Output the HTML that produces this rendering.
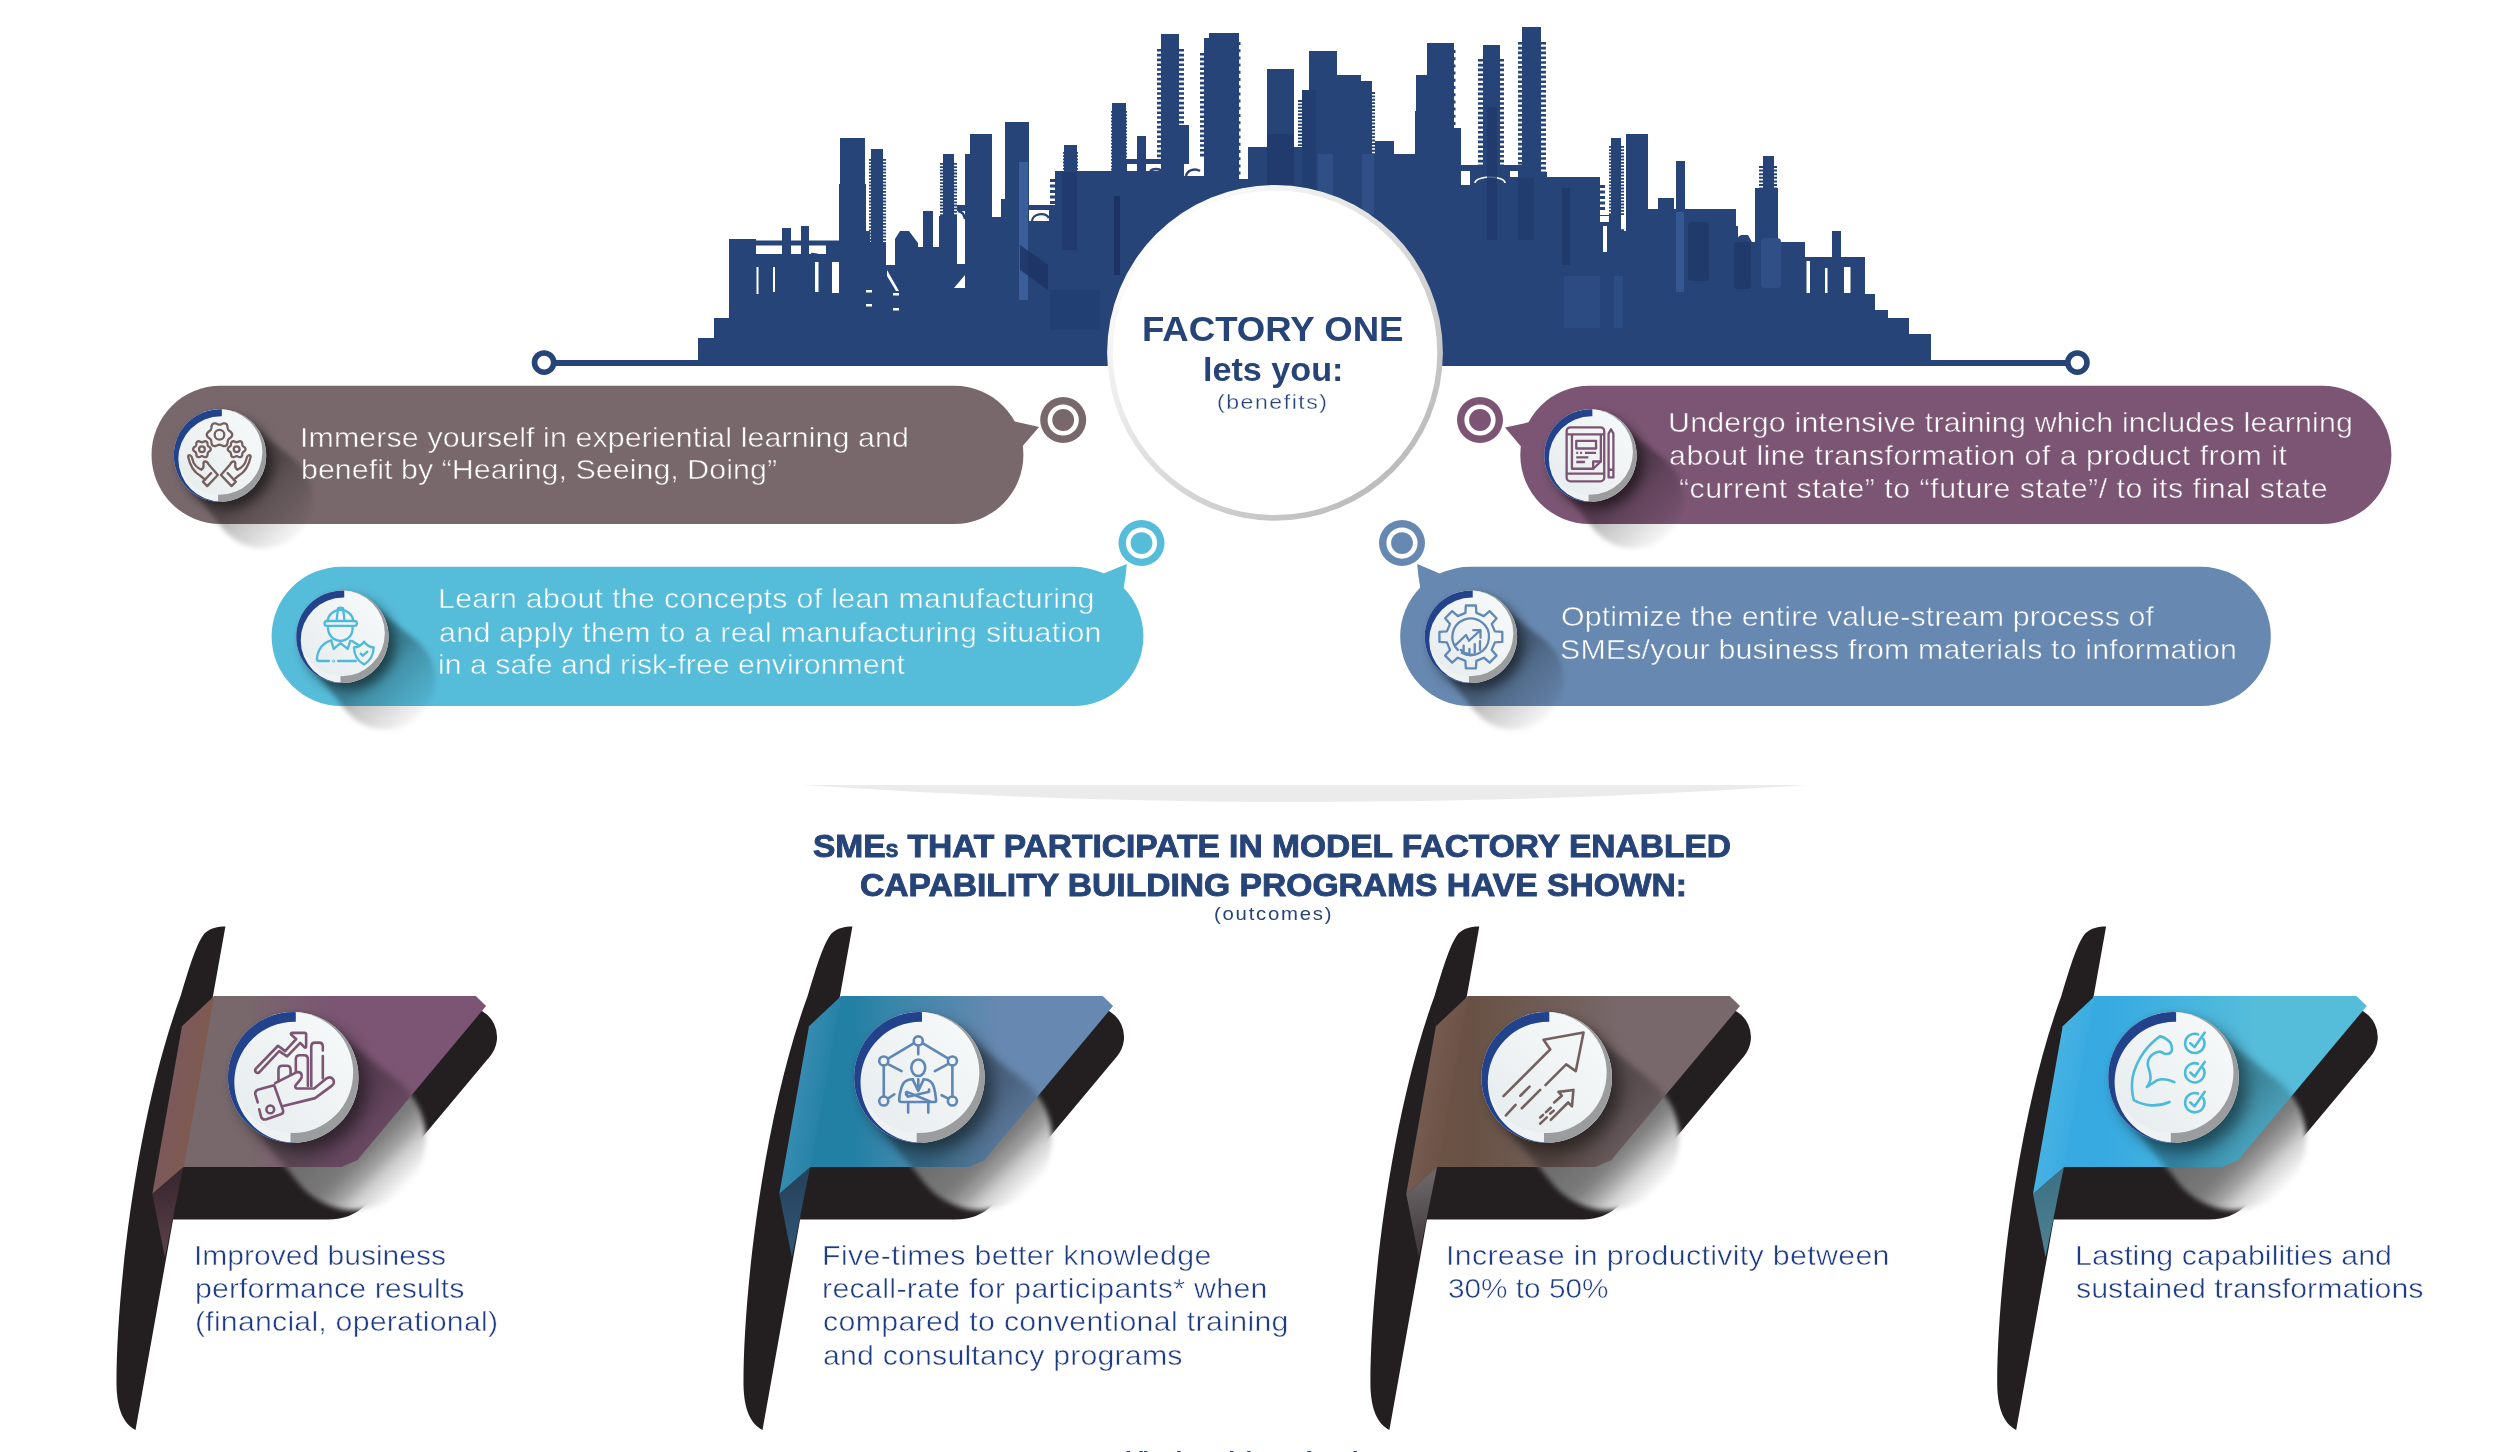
<!DOCTYPE html>
<html><head><meta charset="utf-8"><title>Factory One</title>
<style>
html,body{margin:0;padding:0;background:#fff}
body{width:2501px;height:1452px;position:relative;overflow:hidden;font-family:"Liberation Sans",sans-serif}
.t{position:absolute;white-space:nowrap;transform-origin:0 50%;margin:0;padding:0}
</style></head><body>
<svg width="2501" height="1452" viewBox="0 0 2501 1452" style="position:absolute;left:0;top:0"><defs><linearGradient id="faceg" x1="0.15" y1="0.85" x2="0.85" y2="0.15"><stop offset="0" stop-color="#E8EDEF"/><stop offset="0.5" stop-color="#EFF3F4"/><stop offset="1" stop-color="#F5F8F9"/></linearGradient><linearGradient id="rimg" x1="0.146" y1="0.146" x2="0.854" y2="0.854"><stop offset="0" stop-color="#FDFDFD"/><stop offset="1" stop-color="#BCBCBC"/></linearGradient></defs><path d="M698 338H714V366H698zM714 318H729V366H714zM729 239H756V366H729zM756 240.5H840V366H756zM782 228H791V366H782zM801 226H809V366H801zM840 138H865V366H840zM839 184H866V366H839zM865 231H870V366H865zM871 149H883V366H871zM869 242H886V366H869zM886 265H895V366H886zM918 247H939V366H918zM923 211H933V366H923zM943 154H954V366H943zM939 216H963V366H939zM957 205H965V366H957zM965 154H970V366H965zM970 134H992V366H970zM992 217H1005V366H992zM1005 122H1029V366H1005zM1001 199H1005V366H1001zM1029 205H1055V366H1029zM1055 171H1237V366H1055zM1064 145H1077V366H1064zM1112 103H1126V366H1112zM1137 136H1146V366H1137zM1126 159H1161V366H1126zM1161 34H1179V366H1161zM1179 125H1189V366H1179zM1209 33H1239V366H1209zM1204 38H1209V366H1204zM1237 179H1248V366H1237zM1248 147H1267V366H1248zM1267 69H1294V366H1267zM1294 147H1302V366H1294zM1302 90H1309V366H1302zM1309 51H1337V366H1309zM1337 75H1361V366H1337zM1361 81H1372V366H1361zM1372 154H1375V366H1372zM1375 141H1394V366H1375zM1394 154H1415V366H1394zM1415 111H1416V366H1415zM1416 75H1427V366H1416zM1427 43H1454V366H1427zM1454 128H1461V366H1454zM1453 165H1537V366H1453zM1483 45H1500V366H1483zM1522 27H1541V366H1522zM1518 172H1547V366H1518zM1547 177H1600V366H1547zM1600 215H1611V366H1600zM1611 138H1621V366H1611zM1609 231H1626V366H1609zM1626 134H1648V366H1626zM1648 209H1736V366H1648zM1658 198H1674V366H1658zM1676 161H1685V366H1676zM1736 226H1738V366H1736zM1738 242H1755V366H1738zM1755 188H1778V366H1755zM1763 156H1774V366H1763zM1778 242H1805V366H1778zM1805 257H1865V366H1805zM1832 231H1841V366H1832zM1865 294H1875V366H1865zM1875 310H1888V366H1875zM1888 318H1909V366H1888zM1909 334H1931V366H1909zM895 366V239L900 231H909L918 243V366zM1738 366V237L1741 235H1748L1752 242V366z" fill="#264478"/>
<path d="M869.0 159.0h17.0v1.8h-17.0zM869.0 162.2h17.0v1.8h-17.0zM869.0 165.4h17.0v1.8h-17.0zM869.0 168.6h17.0v1.8h-17.0zM869.0 171.8h17.0v1.8h-17.0zM869.0 175.0h17.0v1.8h-17.0zM869.0 178.2h17.0v1.8h-17.0zM869.0 181.4h17.0v1.8h-17.0zM869.0 184.6h17.0v1.8h-17.0zM869.0 187.8h17.0v1.8h-17.0zM869.0 191.0h17.0v1.8h-17.0zM869.0 194.2h17.0v1.8h-17.0zM869.0 197.4h17.0v1.8h-17.0zM869.0 200.6h17.0v1.8h-17.0zM869.0 203.8h17.0v1.8h-17.0zM869.0 207.0h17.0v1.8h-17.0zM869.0 210.2h17.0v1.8h-17.0zM869.0 213.4h17.0v1.8h-17.0zM869.0 216.6h17.0v1.8h-17.0zM869.0 219.8h17.0v1.8h-17.0zM869.0 223.0h17.0v1.8h-17.0zM869.0 226.2h17.0v1.8h-17.0zM869.0 229.4h17.0v1.8h-17.0zM869.0 232.6h17.0v1.8h-17.0zM869.0 235.8h17.0v1.8h-17.0zM869.0 239.0h17.0v1.8h-17.0z" fill="#264478"/>
<path d="M940.0 163.0h17.0v1.8h-17.0zM940.0 166.2h17.0v1.8h-17.0zM940.0 169.4h17.0v1.8h-17.0zM940.0 172.6h17.0v1.8h-17.0zM940.0 175.8h17.0v1.8h-17.0zM940.0 179.0h17.0v1.8h-17.0zM940.0 182.2h17.0v1.8h-17.0zM940.0 185.4h17.0v1.8h-17.0zM940.0 188.6h17.0v1.8h-17.0zM940.0 191.8h17.0v1.8h-17.0zM940.0 195.0h17.0v1.8h-17.0zM940.0 198.2h17.0v1.8h-17.0zM940.0 201.4h17.0v1.8h-17.0zM940.0 204.6h17.0v1.8h-17.0zM940.0 207.8h17.0v1.8h-17.0zM940.0 211.0h17.0v1.8h-17.0zM940.0 214.2h17.0v1.8h-17.0z" fill="#264478"/>
<path d="M1063.0 152.0h15.0v1.8h-15.0zM1063.0 155.2h15.0v1.8h-15.0zM1063.0 158.4h15.0v1.8h-15.0zM1063.0 161.6h15.0v1.8h-15.0zM1063.0 164.8h15.0v1.8h-15.0zM1063.0 168.0h15.0v1.8h-15.0z" fill="#264478"/>
<path d="M1111.0 111.0h16.0v1.8h-16.0zM1111.0 114.2h16.0v1.8h-16.0zM1111.0 117.4h16.0v1.8h-16.0zM1111.0 120.6h16.0v1.8h-16.0zM1111.0 123.8h16.0v1.8h-16.0zM1111.0 127.0h16.0v1.8h-16.0zM1111.0 130.2h16.0v1.8h-16.0zM1111.0 133.4h16.0v1.8h-16.0zM1111.0 136.6h16.0v1.8h-16.0zM1111.0 139.8h16.0v1.8h-16.0zM1111.0 143.0h16.0v1.8h-16.0zM1111.0 146.2h16.0v1.8h-16.0zM1111.0 149.4h16.0v1.8h-16.0zM1111.0 152.6h16.0v1.8h-16.0zM1111.0 155.8h16.0v1.8h-16.0zM1111.0 159.0h16.0v1.8h-16.0zM1111.0 162.2h16.0v1.8h-16.0zM1111.0 165.4h16.0v1.8h-16.0zM1111.0 168.6h16.0v1.8h-16.0z" fill="#264478"/>
<path d="M1050.0 179.0h5.0v3.0h-5.0zM1050.0 184.5h5.0v3.0h-5.0zM1050.0 190.0h5.0v3.0h-5.0zM1050.0 195.5h5.0v3.0h-5.0zM1050.0 201.0h5.0v3.0h-5.0z" fill="#264478"/>
<path d="M1157.0 49.0h27.0v2.6h-27.0zM1157.0 53.8h27.0v2.6h-27.0zM1157.0 58.6h27.0v2.6h-27.0zM1157.0 63.4h27.0v2.6h-27.0zM1157.0 68.2h27.0v2.6h-27.0zM1157.0 73.0h27.0v2.6h-27.0zM1157.0 77.8h27.0v2.6h-27.0zM1157.0 82.6h27.0v2.6h-27.0zM1157.0 87.4h27.0v2.6h-27.0zM1157.0 92.2h27.0v2.6h-27.0zM1157.0 97.0h27.0v2.6h-27.0zM1157.0 101.8h27.0v2.6h-27.0zM1157.0 106.6h27.0v2.6h-27.0zM1157.0 111.4h27.0v2.6h-27.0zM1157.0 116.2h27.0v2.6h-27.0zM1157.0 121.0h27.0v2.6h-27.0zM1157.0 125.8h27.0v2.6h-27.0zM1157.0 130.6h27.0v2.6h-27.0zM1157.0 135.4h27.0v2.6h-27.0zM1157.0 140.2h27.0v2.6h-27.0zM1157.0 145.0h27.0v2.6h-27.0zM1157.0 149.8h27.0v2.6h-27.0zM1157.0 154.6h27.0v2.6h-27.0z" fill="#264478"/>
<path d="M1184.0 126.0h5.0v2.6h-5.0zM1184.0 130.8h5.0v2.6h-5.0zM1184.0 135.6h5.0v2.6h-5.0zM1184.0 140.4h5.0v2.6h-5.0zM1184.0 145.2h5.0v2.6h-5.0zM1184.0 150.0h5.0v2.6h-5.0zM1184.0 154.8h5.0v2.6h-5.0zM1184.0 159.6h5.0v2.6h-5.0z" fill="#264478"/>
<path d="M1200.0 53.0h4.0v2.6h-4.0zM1200.0 57.8h4.0v2.6h-4.0zM1200.0 62.6h4.0v2.6h-4.0zM1200.0 67.4h4.0v2.6h-4.0zM1200.0 72.2h4.0v2.6h-4.0zM1200.0 77.0h4.0v2.6h-4.0zM1200.0 81.8h4.0v2.6h-4.0zM1200.0 86.6h4.0v2.6h-4.0zM1200.0 91.4h4.0v2.6h-4.0zM1200.0 96.2h4.0v2.6h-4.0zM1200.0 101.0h4.0v2.6h-4.0zM1200.0 105.8h4.0v2.6h-4.0zM1200.0 110.6h4.0v2.6h-4.0zM1200.0 115.4h4.0v2.6h-4.0zM1200.0 120.2h4.0v2.6h-4.0zM1200.0 125.0h4.0v2.6h-4.0zM1200.0 129.8h4.0v2.6h-4.0zM1200.0 134.6h4.0v2.6h-4.0zM1200.0 139.4h4.0v2.6h-4.0zM1200.0 144.2h4.0v2.6h-4.0zM1200.0 149.0h4.0v2.6h-4.0zM1200.0 153.8h4.0v2.6h-4.0z" fill="#264478"/>
<path d="M1239.0 42.0h1.5v3.0h-1.5zM1239.0 49.2h1.5v3.0h-1.5zM1239.0 56.4h1.5v3.0h-1.5zM1239.0 63.6h1.5v3.0h-1.5zM1239.0 70.8h1.5v3.0h-1.5zM1239.0 78.0h1.5v3.0h-1.5zM1239.0 85.2h1.5v3.0h-1.5zM1239.0 92.4h1.5v3.0h-1.5zM1239.0 99.6h1.5v3.0h-1.5zM1239.0 106.8h1.5v3.0h-1.5zM1239.0 114.0h1.5v3.0h-1.5zM1239.0 121.2h1.5v3.0h-1.5zM1239.0 128.4h1.5v3.0h-1.5zM1239.0 135.6h1.5v3.0h-1.5zM1239.0 142.8h1.5v3.0h-1.5zM1239.0 150.0h1.5v3.0h-1.5zM1239.0 157.2h1.5v3.0h-1.5zM1239.0 164.4h1.5v3.0h-1.5zM1239.0 171.6h1.5v3.0h-1.5z" fill="#264478"/>
<path d="M1298.0 100.0h4.0v1.9h-4.0zM1298.0 103.4h4.0v1.9h-4.0zM1298.0 106.8h4.0v1.9h-4.0zM1298.0 110.2h4.0v1.9h-4.0zM1298.0 113.6h4.0v1.9h-4.0zM1298.0 117.0h4.0v1.9h-4.0zM1298.0 120.4h4.0v1.9h-4.0zM1298.0 123.8h4.0v1.9h-4.0zM1298.0 127.2h4.0v1.9h-4.0zM1298.0 130.6h4.0v1.9h-4.0zM1298.0 134.0h4.0v1.9h-4.0zM1298.0 137.4h4.0v1.9h-4.0zM1298.0 140.8h4.0v1.9h-4.0zM1298.0 144.2h4.0v1.9h-4.0z" fill="#264478"/>
<path d="M1372.0 92.0h3.0v1.9h-3.0zM1372.0 95.4h3.0v1.9h-3.0zM1372.0 98.8h3.0v1.9h-3.0zM1372.0 102.2h3.0v1.9h-3.0zM1372.0 105.6h3.0v1.9h-3.0zM1372.0 109.0h3.0v1.9h-3.0zM1372.0 112.4h3.0v1.9h-3.0zM1372.0 115.8h3.0v1.9h-3.0zM1372.0 119.2h3.0v1.9h-3.0zM1372.0 122.6h3.0v1.9h-3.0zM1372.0 126.0h3.0v1.9h-3.0zM1372.0 129.4h3.0v1.9h-3.0zM1372.0 132.8h3.0v1.9h-3.0zM1372.0 136.2h3.0v1.9h-3.0zM1372.0 139.6h3.0v1.9h-3.0zM1372.0 143.0h3.0v1.9h-3.0zM1372.0 146.4h3.0v1.9h-3.0zM1372.0 149.8h3.0v1.9h-3.0zM1372.0 153.2h3.0v1.9h-3.0z" fill="#264478"/>
<path d="M1454.0 50.0h1.5v3.0h-1.5zM1454.0 57.2h1.5v3.0h-1.5zM1454.0 64.4h1.5v3.0h-1.5zM1454.0 71.6h1.5v3.0h-1.5zM1454.0 78.8h1.5v3.0h-1.5zM1454.0 86.0h1.5v3.0h-1.5zM1454.0 93.2h1.5v3.0h-1.5zM1454.0 100.4h1.5v3.0h-1.5zM1454.0 107.6h1.5v3.0h-1.5zM1454.0 114.8h1.5v3.0h-1.5zM1454.0 122.0h1.5v3.0h-1.5z" fill="#264478"/>
<path d="M1478.0 59.0h26.0v2.6h-26.0zM1478.0 63.8h26.0v2.6h-26.0zM1478.0 68.6h26.0v2.6h-26.0zM1478.0 73.4h26.0v2.6h-26.0zM1478.0 78.2h26.0v2.6h-26.0zM1478.0 83.0h26.0v2.6h-26.0zM1478.0 87.8h26.0v2.6h-26.0zM1478.0 92.6h26.0v2.6h-26.0zM1478.0 97.4h26.0v2.6h-26.0zM1478.0 102.2h26.0v2.6h-26.0zM1478.0 107.0h26.0v2.6h-26.0zM1478.0 111.8h26.0v2.6h-26.0zM1478.0 116.6h26.0v2.6h-26.0zM1478.0 121.4h26.0v2.6h-26.0zM1478.0 126.2h26.0v2.6h-26.0zM1478.0 131.0h26.0v2.6h-26.0zM1478.0 135.8h26.0v2.6h-26.0zM1478.0 140.6h26.0v2.6h-26.0zM1478.0 145.4h26.0v2.6h-26.0zM1478.0 150.2h26.0v2.6h-26.0zM1478.0 155.0h26.0v2.6h-26.0zM1478.0 159.8h26.0v2.6h-26.0zM1478.0 164.6h26.0v2.6h-26.0z" fill="#264478"/>
<path d="M1518.0 42.0h28.0v2.6h-28.0zM1518.0 46.8h28.0v2.6h-28.0zM1518.0 51.6h28.0v2.6h-28.0zM1518.0 56.4h28.0v2.6h-28.0zM1518.0 61.2h28.0v2.6h-28.0zM1518.0 66.0h28.0v2.6h-28.0zM1518.0 70.8h28.0v2.6h-28.0zM1518.0 75.6h28.0v2.6h-28.0zM1518.0 80.4h28.0v2.6h-28.0zM1518.0 85.2h28.0v2.6h-28.0zM1518.0 90.0h28.0v2.6h-28.0zM1518.0 94.8h28.0v2.6h-28.0zM1518.0 99.6h28.0v2.6h-28.0zM1518.0 104.4h28.0v2.6h-28.0zM1518.0 109.2h28.0v2.6h-28.0zM1518.0 114.0h28.0v2.6h-28.0zM1518.0 118.8h28.0v2.6h-28.0zM1518.0 123.6h28.0v2.6h-28.0zM1518.0 128.4h28.0v2.6h-28.0zM1518.0 133.2h28.0v2.6h-28.0zM1518.0 138.0h28.0v2.6h-28.0zM1518.0 142.8h28.0v2.6h-28.0zM1518.0 147.6h28.0v2.6h-28.0zM1518.0 152.4h28.0v2.6h-28.0zM1518.0 157.2h28.0v2.6h-28.0zM1518.0 162.0h28.0v2.6h-28.0zM1518.0 166.8h28.0v2.6h-28.0zM1518.0 171.6h28.0v2.6h-28.0z" fill="#264478"/>
<path d="M1600.0 185.0h5.0v3.0h-5.0zM1600.0 190.5h5.0v3.0h-5.0zM1600.0 196.0h5.0v3.0h-5.0zM1600.0 201.5h5.0v3.0h-5.0zM1600.0 207.0h5.0v3.0h-5.0z" fill="#264478"/>
<path d="M1609.0 146.0h15.0v1.8h-15.0zM1609.0 149.2h15.0v1.8h-15.0zM1609.0 152.4h15.0v1.8h-15.0zM1609.0 155.6h15.0v1.8h-15.0zM1609.0 158.8h15.0v1.8h-15.0zM1609.0 162.0h15.0v1.8h-15.0zM1609.0 165.2h15.0v1.8h-15.0zM1609.0 168.4h15.0v1.8h-15.0zM1609.0 171.6h15.0v1.8h-15.0zM1609.0 174.8h15.0v1.8h-15.0zM1609.0 178.0h15.0v1.8h-15.0zM1609.0 181.2h15.0v1.8h-15.0zM1609.0 184.4h15.0v1.8h-15.0zM1609.0 187.6h15.0v1.8h-15.0zM1609.0 190.8h15.0v1.8h-15.0zM1609.0 194.0h15.0v1.8h-15.0zM1609.0 197.2h15.0v1.8h-15.0zM1609.0 200.4h15.0v1.8h-15.0zM1609.0 203.6h15.0v1.8h-15.0zM1609.0 206.8h15.0v1.8h-15.0zM1609.0 210.0h15.0v1.8h-15.0zM1609.0 213.2h15.0v1.8h-15.0zM1609.0 216.4h15.0v1.8h-15.0zM1609.0 219.6h15.0v1.8h-15.0zM1609.0 222.8h15.0v1.8h-15.0zM1609.0 226.0h15.0v1.8h-15.0zM1609.0 229.2h15.0v1.8h-15.0z" fill="#264478"/>
<path d="M1759.0 166.0h18.0v2.0h-18.0zM1759.0 169.6h18.0v2.0h-18.0zM1759.0 173.2h18.0v2.0h-18.0zM1759.0 176.8h18.0v2.0h-18.0zM1759.0 180.4h18.0v2.0h-18.0zM1759.0 184.0h18.0v2.0h-18.0zM1759.0 187.6h18.0v2.0h-18.0z" fill="#264478"/>
<path d="M756 245.5H782V254H756zM791 245.5H801V254H791zM809 245.5H826V254H809zM756.5 267H758.5V294H756.5zM773 267H775V292H773zM815 262H818.5V292H815zM832 262H839V293H832zM866 290H872V292.5H866zM866 304H872V306.5H866zM893 293H899V295.5H893zM893 308H899V310.5H893zM957 211H965V264H957zM1029 210H1049V221H1029zM1127 164H1137V171H1127zM1146 164H1161V171H1146zM1184 164H1204V176H1184zM1461 171H1470V185H1461zM1510 171H1518V177H1510zM1600 216H1609V222H1600zM1603 226H1607V252H1603zM1621 216H1624.5V229H1621zM1806.5 261H1810V293H1806.5zM1825 268H1827.5V293H1825zM1844 267H1850.5V293H1844z" fill="#fff"/>
<path d="M887 270L899 291H896L887 276z M954 288L965 275V288z" fill="#fff"/>
<path d="M1475 183a15 6 0 0 1 30 0" fill="none" stroke="#fff" stroke-width="1.6"/>
<path d="M1032 221a9 7 0 0 1 17 -3 M1150 171a8 6 0 0 1 12 0 M1186 176a9 8 0 0 1 14 -5 M1806 259h9l5 5 M1841 259h14l5 5 M811 254q12 0 15 10 M958 211q6 1 7 8" fill="none" stroke="#264478" stroke-width="2.4"/>
<rect x="1019.0" y="162.0" width="9.0" height="138.0" fill="#3A5E9A" />
<rect x="1062.0" y="172.0" width="15.0" height="78.0" fill="#203A6C" opacity="0.8"/>
<rect x="1114.0" y="196.0" width="6.0" height="79.0" fill="#1C3263" />
<rect x="1267.0" y="134.0" width="27.0" height="56.0" fill="#203A6C" opacity="0.8"/>
<rect x="1302.0" y="90.0" width="14.0" height="100.0" fill="#203A6C" opacity="0.6"/>
<rect x="1318.0" y="154.0" width="15.0" height="41.0" fill="#2F4F86" />
<rect x="1362.0" y="154.0" width="12.0" height="61.0" fill="#2F4F86" />
<rect x="1487.0" y="107.0" width="10.0" height="133.0" fill="#203A6C" opacity="0.8"/>
<rect x="1518.0" y="178.0" width="16.0" height="62.0" fill="#203A6C" opacity="0.7"/>
<rect x="1562.0" y="188.0" width="8.0" height="77.0" fill="#203A6C" />
<rect x="1564.0" y="276.0" width="36.0" height="52.0" fill="#2F4F86" opacity="0.7"/>
<rect x="1614.0" y="276.0" width="9.0" height="52.0" fill="#2F4F86" opacity="0.9"/>
<rect x="1676.0" y="212.0" width="8.0" height="80.0" fill="#3A5E9A" opacity="0.8"/>
<rect x="1688" y="222" width="21" height="59" rx="4" fill="#203A6C"/>
<rect x="1734" y="242" width="17" height="47" rx="3" fill="#203A6C"/>
<rect x="1761" y="238" width="20" height="50" rx="4" fill="#2F4F86"/>
<rect x="1370.0" y="280.0" width="30.0" height="30.0" fill="#203A6C" opacity="0.5"/>
<rect x="1050.0" y="290.0" width="50.0" height="40.0" fill="#203A6C" opacity="0.45"/>
<path d="M1020 245l28 20v25l-28 -20z" fill="#1C3263" opacity="0.8"/>
<rect x="543.0" y="360.0" width="1534.0" height="6.0" fill="#264478" />
<circle cx="544.1" cy="362.6" r="9.6" fill="#fff" stroke="#264478" stroke-width="5.6"/>
<circle cx="2077.4" cy="362.6" r="9.6" fill="#fff" stroke="#264478" stroke-width="5.6"/>
<rect x="151.5" y="385.7" width="871.9" height="138.3" rx="69.2" fill="#78686B"/>
<polygon points="1000,418 1039.1,427.1 1015,455" fill="#78686B"/>
<g style="mix-blend-mode:multiply"><linearGradient id="cg1" gradientUnits="userSpaceOnUse" x1="220" y1="455.5" x2="297.9" y2="533.4"><stop offset="0" stop-color="#a8a8a8"/><stop offset="0.42" stop-color="#adadad"/><stop offset="0.56" stop-color="#c7c7c7"/><stop offset="0.7" stop-color="#d6d6d6"/><stop offset="0.85" stop-color="#e6e6e6"/><stop offset="1.0" stop-color="#f7f7f7"/></linearGradient><filter id="cf2" x="-15%" y="-15%" width="130%" height="130%"><feGaussianBlur stdDeviation="2.6"/></filter><path d="M246.7 421.8L293.5 458.8A50 50 0 1 1 223.3 529.0L186.3 482.2A43.0 43.0 0 0 1 246.7 421.8z" fill="url(#cg1)" filter="url(#cf2)" /><filter id="df3" x="-40%" y="-40%" width="180%" height="180%"><feGaussianBlur stdDeviation="6"/></filter><circle cx="227.0" cy="462.5" r="46" fill="#000" opacity="0.5" filter="url(#df3)"/></g>
<clipPath id="bc4"><rect x="218.09" y="407.3" width="51.2" height="96.4"/></clipPath><clipPath id="bc5"><rect x="171.80" y="407.3" width="50.04" height="96.4"/></clipPath><circle cx="220" cy="455.5" r="46.2" fill="#EEF2F3"/><circle cx="220" cy="455.5" r="46.2" fill="#9A9C9E" clip-path="url(#bc4)"/><circle cx="219.65" cy="452.07" r="42.77" fill="url(#faceg)"/><path fill-rule="evenodd" clip-path="url(#bc5)" fill="#22428C" d="M173.8 455.5a46.2 46.2 0 1 0 92.4 0a46.2 46.2 0 1 0 -92.4 0zM178.33 458.86a42.73 42.73 0 1 0 85.47 0a42.73 42.73 0 1 0 -85.47 0z"/>
<g transform="translate(160 395) scale(0.09642)" fill="none" stroke="#75605F" stroke-width="24" stroke-linecap="round" stroke-linejoin="round"><path d="M617 308L626 307L636 303L648 298L660 295L672 294L683 298L692 305L697 316L700 329L702 341L704 351L707 360L713 367L721 374L731 381L740 390L747 401L749 412L747 423L740 434L731 443L721 450L713 457L707 464L704 473L702 483L700 495L697 508L692 519L683 526L672 530L660 529L648 526L636 521L626 517L617 516L608 517L598 521L586 526L574 529L562 530L551 526L542 519L537 508L534 495L532 483L530 473L527 464L521 457L513 450L503 443L494 434L487 423L485 412L487 401L494 390L503 381L513 374L521 367L527 360L530 351L532 341L534 329L537 316L542 305L551 298L562 294L574 295L586 298L598 303L608 307L617 308z"/><circle cx="617" cy="412" r="50"/><path d="M435 490L441 489L448 486L456 483L465 480L473 480L481 482L487 488L491 495L493 504L494 513L495 520L497 526L501 531L507 536L514 541L521 547L525 554L527 562L525 570L521 577L514 583L507 588L501 593L497 598L495 604L494 611L493 620L491 629L487 636L481 642L473 644L465 644L456 641L448 638L441 635L435 634L429 635L422 638L414 641L405 644L397 644L389 642L383 636L379 629L377 620L376 611L375 604L373 598L369 593L363 588L356 583L349 577L345 570L343 562L345 554L349 547L356 541L363 536L369 531L373 526L375 520L376 513L377 504L379 495L383 488L389 482L397 480L405 480L414 483L422 486L429 489L435 490z"/><circle cx="435" cy="562" r="30"/><path d="M795 490L801 489L808 486L816 483L825 480L833 480L841 482L847 488L851 495L853 504L854 513L855 520L857 526L861 531L867 536L874 541L881 547L885 554L887 562L885 570L881 577L874 583L867 588L861 593L857 598L855 604L854 611L853 620L851 629L847 636L841 642L833 644L825 644L816 641L808 638L801 635L795 634L789 635L782 638L774 641L765 644L757 644L749 642L743 636L739 629L737 620L736 611L735 604L733 598L729 593L723 588L716 583L709 577L705 570L703 562L705 554L709 547L716 541L723 536L729 531L733 526L735 520L736 513L737 504L739 495L743 488L749 482L757 480L765 480L774 483L782 486L789 489L795 490z"/><circle cx="795" cy="562" r="30"/><path d="M292 640Q290 620 312 625Q330 632 335 660Q350 740 430 775Q455 760 452 725Q445 690 470 690Q490 690 505 720L600 830L490 945L445 900L530 810M470 880L415 835Q320 780 292 640"/><path d="M940 640Q942 620 920 625Q902 632 897 660Q882 740 802 775Q777 760 780 725Q787 690 762 690Q742 690 727 720L632 830L742 945L787 900L702 810M762 880L817 835Q912 780 940 640"/></g>
<circle cx="1063.2" cy="420" r="23" fill="#78686B"/><circle cx="1063.2" cy="420" r="15.6" fill="#fff"/><circle cx="1063.2" cy="420" r="10.9" fill="#78686B"/>
<rect x="1520.3" y="385.7" width="871.1" height="138.3" rx="69.2" fill="#7B5573"/>
<polygon points="1542,419.5 1505,427.4 1528,455" fill="#7B5573"/>
<g style="mix-blend-mode:multiply"><linearGradient id="cg6" gradientUnits="userSpaceOnUse" x1="1590.5" y1="455.5" x2="1668.4" y2="533.4"><stop offset="0" stop-color="#a8a8a8"/><stop offset="0.42" stop-color="#adadad"/><stop offset="0.56" stop-color="#c7c7c7"/><stop offset="0.7" stop-color="#d6d6d6"/><stop offset="0.85" stop-color="#e6e6e6"/><stop offset="1.0" stop-color="#f7f7f7"/></linearGradient><filter id="cf7" x="-15%" y="-15%" width="130%" height="130%"><feGaussianBlur stdDeviation="2.6"/></filter><path d="M1617.2 421.8L1664.0 458.8A50 50 0 1 1 1593.8 529.0L1556.8 482.2A43.0 43.0 0 0 1 1617.2 421.8z" fill="url(#cg6)" filter="url(#cf7)" /><filter id="df8" x="-40%" y="-40%" width="180%" height="180%"><feGaussianBlur stdDeviation="6"/></filter><circle cx="1597.5" cy="462.5" r="46" fill="#000" opacity="0.5" filter="url(#df8)"/></g>
<clipPath id="bc9"><rect x="1588.59" y="407.3" width="51.2" height="96.4"/></clipPath><clipPath id="bc10"><rect x="1542.30" y="407.3" width="50.04" height="96.4"/></clipPath><circle cx="1590.5" cy="455.5" r="46.2" fill="#EEF2F3"/><circle cx="1590.5" cy="455.5" r="46.2" fill="#9A9C9E" clip-path="url(#bc9)"/><circle cx="1590.15" cy="452.07" r="42.77" fill="url(#faceg)"/><path fill-rule="evenodd" clip-path="url(#bc10)" fill="#22428C" d="M1544.3 455.5a46.2 46.2 0 1 0 92.4 0a46.2 46.2 0 1 0 -92.4 0zM1548.83 458.86a42.73 42.73 0 1 0 85.47 0a42.73 42.73 0 1 0 -85.47 0z"/>
<g transform="translate(1530 395) scale(0.09642)" fill="none" stroke="#7B5573" stroke-width="24" stroke-linecap="round" stroke-linejoin="round"><rect x="380" y="335" width="390" height="560" rx="40"/><path d="M392 408H758M392 815H758"/><path d="M435 420V765H655L735 690V420"/><path d="M655 765V690H735" /><rect x="480" y="475" width="205" height="80"/><path d="M480 600H500M520 600H540M570 600H685M480 647H605M480 695H570" stroke-linecap="butt"/><path d="M815 400L840 355L865 400V855H815zM815 775H865"/></g>
<circle cx="1480" cy="420" r="23" fill="#7B5573"/><circle cx="1480" cy="420" r="15.6" fill="#fff"/><circle cx="1480" cy="420" r="10.9" fill="#7B5573"/>
<rect x="271.6" y="566.8" width="871.8" height="139.2" rx="69.6" fill="#55BCDA"/>
<polygon points="1095,577 1126.8,564.1 1125.6,576 1123.5,589 1100,590" fill="#55BCDA"/>
<g style="mix-blend-mode:multiply"><linearGradient id="cg11" gradientUnits="userSpaceOnUse" x1="342.4" y1="636.8" x2="420.3" y2="714.7"><stop offset="0" stop-color="#a8a8a8"/><stop offset="0.42" stop-color="#adadad"/><stop offset="0.56" stop-color="#c7c7c7"/><stop offset="0.7" stop-color="#d6d6d6"/><stop offset="0.85" stop-color="#e6e6e6"/><stop offset="1.0" stop-color="#f7f7f7"/></linearGradient><filter id="cf12" x="-15%" y="-15%" width="130%" height="130%"><feGaussianBlur stdDeviation="2.6"/></filter><path d="M369.1 603.1L415.9 640.1A50 50 0 1 1 345.7 710.3L308.7 663.5A43.0 43.0 0 0 1 369.1 603.1z" fill="url(#cg11)" filter="url(#cf12)" /><filter id="df13" x="-40%" y="-40%" width="180%" height="180%"><feGaussianBlur stdDeviation="6"/></filter><circle cx="349.4" cy="643.8" r="46" fill="#000" opacity="0.5" filter="url(#df13)"/></g>
<clipPath id="bc14"><rect x="340.49" y="588.5999999999999" width="51.2" height="96.4"/></clipPath><clipPath id="bc15"><rect x="294.20" y="588.5999999999999" width="50.04" height="96.4"/></clipPath><circle cx="342.4" cy="636.8" r="46.2" fill="#EEF2F3"/><circle cx="342.4" cy="636.8" r="46.2" fill="#9A9C9E" clip-path="url(#bc14)"/><circle cx="342.05" cy="633.37" r="42.77" fill="url(#faceg)"/><path fill-rule="evenodd" clip-path="url(#bc15)" fill="#22428C" d="M296.2 636.8a46.2 46.2 0 1 0 92.4 0a46.2 46.2 0 1 0 -92.4 0zM300.73 640.16a42.73 42.73 0 1 0 85.47 0a42.73 42.73 0 1 0 -85.47 0z"/>
<g transform="translate(272 567) scale(0.09642)" fill="none" stroke="#4DBAD9" stroke-width="24" stroke-linecap="round" stroke-linejoin="round"><path d="M575 560A137 140 0 0 1 845 560"/><path d="M672 540L685 428Q710 415 738 428L750 540"/><rect x="545" y="560" width="335" height="50" rx="25"/><path d="M580 615Q575 700 640 745Q710 790 780 745Q845 700 835 615"/><path d="M615 760Q480 800 465 955Q465 975 490 975H590M685 975H870"/><path d="M615 765L640 850L710 790L785 850L812 765"/><path d="M830 768L900 812"/><path d="M955 775Q915 830 850 835Q855 960 955 1010Q1050 955 1055 835Q995 830 955 775z"/><path d="M920 898L942 920L990 878"/><circle cx="640" cy="975" r="4" /></g>
<circle cx="1141.5" cy="543.05" r="23" fill="#55BCDA"/><circle cx="1141.5" cy="543.05" r="15.6" fill="#fff"/><circle cx="1141.5" cy="543.05" r="10.9" fill="#55BCDA"/>
<rect x="1400.2" y="566.8" width="870.6" height="139.2" rx="69.6" fill="#6788B0"/>
<polygon points="1448,577 1417.2,564.1 1418.4,576 1420.5,589 1444,590" fill="#6788B0"/>
<g style="mix-blend-mode:multiply"><linearGradient id="cg16" gradientUnits="userSpaceOnUse" x1="1470.9" y1="636.8" x2="1548.8" y2="714.7"><stop offset="0" stop-color="#a8a8a8"/><stop offset="0.42" stop-color="#adadad"/><stop offset="0.56" stop-color="#c7c7c7"/><stop offset="0.7" stop-color="#d6d6d6"/><stop offset="0.85" stop-color="#e6e6e6"/><stop offset="1.0" stop-color="#f7f7f7"/></linearGradient><filter id="cf17" x="-15%" y="-15%" width="130%" height="130%"><feGaussianBlur stdDeviation="2.6"/></filter><path d="M1497.6 603.1L1544.4 640.1A50 50 0 1 1 1474.2 710.3L1437.2 663.5A43.0 43.0 0 0 1 1497.6 603.1z" fill="url(#cg16)" filter="url(#cf17)" /><filter id="df18" x="-40%" y="-40%" width="180%" height="180%"><feGaussianBlur stdDeviation="6"/></filter><circle cx="1477.9" cy="643.8" r="46" fill="#000" opacity="0.5" filter="url(#df18)"/></g>
<clipPath id="bc19"><rect x="1468.99" y="588.5999999999999" width="51.2" height="96.4"/></clipPath><clipPath id="bc20"><rect x="1422.70" y="588.5999999999999" width="50.04" height="96.4"/></clipPath><circle cx="1470.9" cy="636.8" r="46.2" fill="#EEF2F3"/><circle cx="1470.9" cy="636.8" r="46.2" fill="#9A9C9E" clip-path="url(#bc19)"/><circle cx="1470.55" cy="633.37" r="42.77" fill="url(#faceg)"/><path fill-rule="evenodd" clip-path="url(#bc20)" fill="#22428C" d="M1424.7 636.8a46.2 46.2 0 1 0 92.4 0a46.2 46.2 0 1 0 -92.4 0zM1429.23 640.16a42.73 42.73 0 1 0 85.47 0a42.73 42.73 0 1 0 -85.47 0z"/>
<g transform="translate(1400 567) scale(0.09642)" fill="none" stroke="#6288B5" stroke-width="24" stroke-linecap="round" stroke-linejoin="round"><path d="M678 476L683 399L787 399L792 476L870 509L929 458L1002 531L951 590L984 668L1061 673L1061 777L984 782L951 860L1002 919L929 992L870 941L792 974L787 1051L683 1051L678 974L600 941L541 992L468 919L519 860L486 782L409 777L409 673L486 668L519 590L468 531L541 458L600 509z"/><path d="M600 860A190 190 0 1 1 640 890"/><path d="M575 810L685 705L715 765L835 655M760 655H835V735"/><path d="M660 815V890M720 850V890M775 800V890M830 770V860M630 860Q680 905 760 910" /></g>
<circle cx="1402" cy="543.05" r="23" fill="#6788B0"/><circle cx="1402" cy="543.05" r="15.6" fill="#fff"/><circle cx="1402" cy="543.05" r="10.9" fill="#6788B0"/>
<circle cx="1275" cy="352.8" r="167.9" fill="url(#rimg)"/>
<circle cx="1275" cy="352.8" r="162.3" fill="#fff"/>
<path d="M802 785H1807Q1304.5 819 802 785z" fill="#EBEBEB"/>
<g transform="translate(0 0)"><linearGradient id="fg0" gradientUnits="userSpaceOnUse" x1="182" y1="0" x2="487" y2="0"><stop offset="0" stop-color="#78686B"/><stop offset="0.2" stop-color="#78686B"/><stop offset="0.34" stop-color="#7A5F6F"/><stop offset="0.5" stop-color="#7B5573"/><stop offset="1" stop-color="#7B5573"/></linearGradient><linearGradient id="ff0" gradientUnits="userSpaceOnUse" x1="160" y1="1090" x2="200" y2="1097"><stop offset="0" stop-color="#7C5960"/><stop offset="1" stop-color="#7E5A4F"/></linearGradient><linearGradient id="fd0" gradientUnits="userSpaceOnUse" x1="160" y1="1180" x2="170" y2="1255"><stop offset="0" stop-color="#3C2832"/><stop offset="1" stop-color="#5A4248"/></linearGradient><clipPath id="fc0"><path d="M213.6 996H475.8L486.1 1006L357.2 1160.3L341.3 1167H183.2z"/></clipPath><path d="M225.4 926.4L135.5 1430C124 1424 117 1410 116.5 1385C116 1300 135 1120 180.8 995.6C190 965 197 942 205 933C210 928 218 926.4 225.4 926.4z" fill="#231F20"/><path d="M182 1007H467A30 30 0 0 1 490.1 1056.2L367 1203.5Q352 1219.5 328 1219.5H173z" fill="#231F20"/><linearGradient id="cg21" gradientUnits="userSpaceOnUse" x1="293.2" y1="1077.4" x2="404.8" y2="1189.0"><stop offset="0" stop-color="#595959"/><stop offset="0.44" stop-color="#6e6e6e"/><stop offset="0.62" stop-color="#787878"/><stop offset="0.67" stop-color="#808080"/><stop offset="0.76" stop-color="#a1a1a1"/><stop offset="0.85" stop-color="#d1d1d1"/><stop offset="0.945" stop-color="#ededed"/><stop offset="1" stop-color="#ffffff"/></linearGradient><filter id="cf22" x="-15%" y="-15%" width="130%" height="130%"><feGaussianBlur stdDeviation="2.6"/></filter><path d="M331.3 1029.2L398.5 1082.3A71.5 71.5 0 1 1 298.1 1182.7L245.0 1115.5A61.49 61.49 0 0 1 331.3 1029.2z" fill="url(#cg21)" filter="url(#cf22)" /><path d="M213.6 996H475.8L486.1 1006L357.2 1160.3L341.3 1167H183.2z" fill="url(#fg0)"/><path d="M214.2 996L182 1026.2L152.3 1194L183.8 1167z" fill="url(#ff0)"/><path d="M152.3 1194L183.2 1167L164.9 1257.3z" fill="url(#fd0)"/><g style="mix-blend-mode:multiply" clip-path="url(#fc0)"><linearGradient id="cg23" gradientUnits="userSpaceOnUse" x1="293.2" y1="1077.4" x2="404.1" y2="1188.3"><stop offset="0" stop-color="#b2b2b2"/><stop offset="0.41" stop-color="#b8b8b8"/><stop offset="0.55" stop-color="#cccccc"/><stop offset="0.7" stop-color="#e0e0e0"/><stop offset="0.85" stop-color="#f2f2f2"/><stop offset="1" stop-color="#ffffff"/></linearGradient><filter id="cf24" x="-15%" y="-15%" width="130%" height="130%"><feGaussianBlur stdDeviation="3.2"/></filter><path d="M331.5 1028.7L397.7 1080.8A72 72 0 1 1 296.6 1181.9L244.5 1115.7A61.92 61.92 0 0 1 331.5 1028.7z" fill="url(#cg23)" filter="url(#cf24)" /><filter id="df25" x="-40%" y="-40%" width="180%" height="180%"><feGaussianBlur stdDeviation="8"/></filter><circle cx="302.2" cy="1086.4" r="65" fill="#000" opacity="0.45" filter="url(#df25)"/></g><clipPath id="bc26"><rect x="290.50" y="1010.1000000000001" width="70.3" height="134.6"/></clipPath><clipPath id="bc27"><rect x="225.90" y="1010.1000000000001" width="69.90" height="134.6"/></clipPath><circle cx="293.2" cy="1077.4" r="65.3" fill="#EEF2F3"/><circle cx="293.2" cy="1077.4" r="65.3" fill="#9A9C9E" clip-path="url(#bc26)"/><circle cx="292.70" cy="1072.55" r="60.45" fill="url(#faceg)"/><path fill-rule="evenodd" clip-path="url(#bc27)" fill="#22428C" d="M227.89999999999998 1077.4a65.3 65.3 0 1 0 130.6 0a65.3 65.3 0 1 0 -130.6 0zM234.30 1082.15a60.40 60.40 0 1 0 120.80 0a60.40 60.40 0 1 0 -120.80 0z"/></g>
<g transform="translate(224 1007) scale(0.09642)" fill="none" stroke="#7B5573" stroke-width="27" stroke-linecap="round" stroke-linejoin="round"><path d="M328 642L560 402L634 458L748 332L698 288Q686 268 710 268H835Q852 268 852 285V410Q850 430 830 414L790 372L655 512L572 458L365 678Q345 692 328 672Q318 655 328 642z"/><path d="M565 770V650Q565 610 605 610H650Q690 610 690 650V700"/><path d="M745 670V540Q745 500 785 500H830Q870 500 870 540V820"/><path d="M905 820V410Q905 370 945 370H985Q1025 370 1025 410V450M1025 510V740"/><path d="M530 790L745 680Q790 665 805 700Q812 730 790 755L740 815Q735 845 760 845H935L1065 740Q1110 715 1135 755Q1150 790 1120 815L945 945L605 1030"/><path d="M520 812L612 1070Q620 1100 590 1112L440 1165Q400 1175 385 1140L365 1060M350 990L325 905Q318 870 350 858L520 812"/><circle cx="480" cy="1062" r="40"/></g>
<g transform="translate(627.0 0)"><linearGradient id="fg1" gradientUnits="userSpaceOnUse" x1="182" y1="0" x2="487" y2="0"><stop offset="0" stop-color="#2380A5"/><stop offset="0.15" stop-color="#2380A5"/><stop offset="0.25" stop-color="#3585AA"/><stop offset="0.48" stop-color="#5588AE"/><stop offset="0.62" stop-color="#6788B0"/><stop offset="1" stop-color="#6788B0"/></linearGradient><linearGradient id="ff1" gradientUnits="userSpaceOnUse" x1="160" y1="1090" x2="200" y2="1097"><stop offset="0" stop-color="#3C8FB5"/><stop offset="1" stop-color="#2581A6"/></linearGradient><linearGradient id="fd1" gradientUnits="userSpaceOnUse" x1="160" y1="1180" x2="170" y2="1255"><stop offset="0" stop-color="#27425C"/><stop offset="1" stop-color="#2F5878"/></linearGradient><clipPath id="fc1"><path d="M213.6 996H475.8L486.1 1006L357.2 1160.3L341.3 1167H183.2z"/></clipPath><path d="M225.4 926.4L135.5 1430C124 1424 117 1410 116.5 1385C116 1300 135 1120 180.8 995.6C190 965 197 942 205 933C210 928 218 926.4 225.4 926.4z" fill="#231F20"/><path d="M182 1007H467A30 30 0 0 1 490.1 1056.2L367 1203.5Q352 1219.5 328 1219.5H173z" fill="#231F20"/><linearGradient id="cg28" gradientUnits="userSpaceOnUse" x1="292.4" y1="1077.4" x2="404.0" y2="1189.0"><stop offset="0" stop-color="#595959"/><stop offset="0.44" stop-color="#6e6e6e"/><stop offset="0.62" stop-color="#787878"/><stop offset="0.67" stop-color="#808080"/><stop offset="0.76" stop-color="#a1a1a1"/><stop offset="0.85" stop-color="#d1d1d1"/><stop offset="0.945" stop-color="#ededed"/><stop offset="1" stop-color="#ffffff"/></linearGradient><filter id="cf29" x="-15%" y="-15%" width="130%" height="130%"><feGaussianBlur stdDeviation="2.6"/></filter><path d="M330.5 1029.2L397.7 1082.3A71.5 71.5 0 1 1 297.3 1182.7L244.2 1115.5A61.49 61.49 0 0 1 330.5 1029.2z" fill="url(#cg28)" filter="url(#cf29)" /><path d="M213.6 996H475.8L486.1 1006L357.2 1160.3L341.3 1167H183.2z" fill="url(#fg1)"/><path d="M214.2 996L182 1026.2L152.3 1194L183.8 1167z" fill="url(#ff1)"/><path d="M152.3 1194L183.2 1167L164.9 1257.3z" fill="url(#fd1)"/><g style="mix-blend-mode:multiply" clip-path="url(#fc1)"><linearGradient id="cg30" gradientUnits="userSpaceOnUse" x1="292.4" y1="1077.4" x2="403.3" y2="1188.3"><stop offset="0" stop-color="#b2b2b2"/><stop offset="0.41" stop-color="#b8b8b8"/><stop offset="0.55" stop-color="#cccccc"/><stop offset="0.7" stop-color="#e0e0e0"/><stop offset="0.85" stop-color="#f2f2f2"/><stop offset="1" stop-color="#ffffff"/></linearGradient><filter id="cf31" x="-15%" y="-15%" width="130%" height="130%"><feGaussianBlur stdDeviation="3.2"/></filter><path d="M330.7 1028.7L396.9 1080.8A72 72 0 1 1 295.8 1181.9L243.7 1115.7A61.92 61.92 0 0 1 330.7 1028.7z" fill="url(#cg30)" filter="url(#cf31)" /><filter id="df32" x="-40%" y="-40%" width="180%" height="180%"><feGaussianBlur stdDeviation="8"/></filter><circle cx="301.4" cy="1086.4" r="65" fill="#000" opacity="0.45" filter="url(#df32)"/></g><clipPath id="bc33"><rect x="289.70" y="1010.1000000000001" width="70.3" height="134.6"/></clipPath><clipPath id="bc34"><rect x="225.10" y="1010.1000000000001" width="69.90" height="134.6"/></clipPath><circle cx="292.4" cy="1077.4" r="65.3" fill="#EEF2F3"/><circle cx="292.4" cy="1077.4" r="65.3" fill="#9A9C9E" clip-path="url(#bc33)"/><circle cx="291.90" cy="1072.55" r="60.45" fill="url(#faceg)"/><path fill-rule="evenodd" clip-path="url(#bc34)" fill="#22428C" d="M227.09999999999997 1077.4a65.3 65.3 0 1 0 130.6 0a65.3 65.3 0 1 0 -130.6 0zM233.50 1082.15a60.40 60.40 0 1 0 120.80 0a60.40 60.40 0 1 0 -120.80 0z"/></g>
<g transform="translate(850 1007) scale(0.09642)" fill="none" stroke="#5F86B4" stroke-width="27" stroke-linecap="round" stroke-linejoin="round"><circle cx="708" cy="352" r="47"/><circle cx="350" cy="560" r="47"/><circle cx="1062" cy="560" r="47"/><circle cx="350" cy="975" r="47"/><circle cx="1062" cy="975" r="47"/><path d="M665 375L395 535M752 375L1020 535M708 400V490M350 607V928M1062 607V928M390 590L535 665M1020 590L880 665M393 950L460 905M1020 950L950 915"/><ellipse cx="708" cy="630" rx="72" ry="85"/><path d="M650 750Q560 750 535 830Q512 900 510 965Q510 985 535 985H880Q895 985 893 965Q885 880 870 830Q845 750 765 750"/><path d="M650 750L708 870L765 750M708 750V860"/><path d="M580 885L600 930L820 880V855M600 930L580 905M590 880L830 980M603 990V1095M812 990V1095"/></g>
<g transform="translate(1253.9 0)"><linearGradient id="fg2" gradientUnits="userSpaceOnUse" x1="182" y1="0" x2="487" y2="0"><stop offset="0" stop-color="#6A5344"/><stop offset="0.12" stop-color="#695245"/><stop offset="0.25" stop-color="#6D584E"/><stop offset="0.45" stop-color="#73605D"/><stop offset="0.6" stop-color="#78686B"/><stop offset="1" stop-color="#78686B"/></linearGradient><linearGradient id="ff2" gradientUnits="userSpaceOnUse" x1="160" y1="1090" x2="200" y2="1097"><stop offset="0" stop-color="#775D54"/><stop offset="1" stop-color="#6D5345"/></linearGradient><linearGradient id="fd2" gradientUnits="userSpaceOnUse" x1="160" y1="1180" x2="170" y2="1255"><stop offset="0" stop-color="#6A6466"/><stop offset="1" stop-color="#3E3638"/></linearGradient><clipPath id="fc2"><path d="M213.6 996H475.8L486.1 1006L357.2 1160.3L341.3 1167H183.2z"/></clipPath><path d="M225.4 926.4L135.5 1430C124 1424 117 1410 116.5 1385C116 1300 135 1120 180.8 995.6C190 965 197 942 205 933C210 928 218 926.4 225.4 926.4z" fill="#231F20"/><path d="M182 1007H467A30 30 0 0 1 490.1 1056.2L367 1203.5Q352 1219.5 328 1219.5H173z" fill="#231F20"/><linearGradient id="cg35" gradientUnits="userSpaceOnUse" x1="292.79999999999995" y1="1077.4" x2="404.4" y2="1189.0"><stop offset="0" stop-color="#595959"/><stop offset="0.44" stop-color="#6e6e6e"/><stop offset="0.62" stop-color="#787878"/><stop offset="0.67" stop-color="#808080"/><stop offset="0.76" stop-color="#a1a1a1"/><stop offset="0.85" stop-color="#d1d1d1"/><stop offset="0.945" stop-color="#ededed"/><stop offset="1" stop-color="#ffffff"/></linearGradient><filter id="cf36" x="-15%" y="-15%" width="130%" height="130%"><feGaussianBlur stdDeviation="2.6"/></filter><path d="M330.9 1029.2L398.1 1082.3A71.5 71.5 0 1 1 297.7 1182.7L244.6 1115.5A61.49 61.49 0 0 1 330.9 1029.2z" fill="url(#cg35)" filter="url(#cf36)" /><path d="M213.6 996H475.8L486.1 1006L357.2 1160.3L341.3 1167H183.2z" fill="url(#fg2)"/><path d="M214.2 996L182 1026.2L152.3 1194L183.8 1167z" fill="url(#ff2)"/><path d="M152.3 1194L183.2 1167L164.9 1257.3z" fill="url(#fd2)"/><g style="mix-blend-mode:multiply" clip-path="url(#fc2)"><linearGradient id="cg37" gradientUnits="userSpaceOnUse" x1="292.79999999999995" y1="1077.4" x2="403.7" y2="1188.3"><stop offset="0" stop-color="#b2b2b2"/><stop offset="0.41" stop-color="#b8b8b8"/><stop offset="0.55" stop-color="#cccccc"/><stop offset="0.7" stop-color="#e0e0e0"/><stop offset="0.85" stop-color="#f2f2f2"/><stop offset="1" stop-color="#ffffff"/></linearGradient><filter id="cf38" x="-15%" y="-15%" width="130%" height="130%"><feGaussianBlur stdDeviation="3.2"/></filter><path d="M331.1 1028.7L397.3 1080.8A72 72 0 1 1 296.2 1181.9L244.1 1115.7A61.92 61.92 0 0 1 331.1 1028.7z" fill="url(#cg37)" filter="url(#cf38)" /><filter id="df39" x="-40%" y="-40%" width="180%" height="180%"><feGaussianBlur stdDeviation="8"/></filter><circle cx="301.8" cy="1086.4" r="65" fill="#000" opacity="0.45" filter="url(#df39)"/></g><clipPath id="bc40"><rect x="290.10" y="1010.1000000000001" width="70.3" height="134.6"/></clipPath><clipPath id="bc41"><rect x="225.50" y="1010.1000000000001" width="69.90" height="134.6"/></clipPath><circle cx="292.79999999999995" cy="1077.4" r="65.3" fill="#EEF2F3"/><circle cx="292.79999999999995" cy="1077.4" r="65.3" fill="#9A9C9E" clip-path="url(#bc40)"/><circle cx="292.30" cy="1072.55" r="60.45" fill="url(#faceg)"/><path fill-rule="evenodd" clip-path="url(#bc41)" fill="#22428C" d="M227.49999999999994 1077.4a65.3 65.3 0 1 0 130.6 0a65.3 65.3 0 1 0 -130.6 0zM233.90 1082.15a60.40 60.40 0 1 0 120.80 0a60.40 60.40 0 1 0 -120.80 0z"/></g>
<g transform="translate(1477 1007) scale(0.09642)" fill="none" stroke="#73605F" stroke-width="27" stroke-linecap="round" stroke-linejoin="round"><path d="M275 925L760 440L690 340L1105 265L1025 665L925 595L710 810"/><path d="M450 920L545 825M300 1125L400 1015M465 1050L655 860"/><path d="M800 990L880 920L845 880L1000 860L985 1030L945 990L765 1170"/><path d="M655 1145L685 1120M715 1090L765 1045M655 1210L725 1145M760 1105L795 1075"/></g>
<g transform="translate(1880.7 0)"><linearGradient id="fg3" gradientUnits="userSpaceOnUse" x1="182" y1="0" x2="487" y2="0"><stop offset="0" stop-color="#38AAE1"/><stop offset="0.12" stop-color="#36A9E1"/><stop offset="0.25" stop-color="#3CAEE0"/><stop offset="0.45" stop-color="#49B6DD"/><stop offset="0.62" stop-color="#55BCDA"/><stop offset="1" stop-color="#55BCDA"/></linearGradient><linearGradient id="ff3" gradientUnits="userSpaceOnUse" x1="160" y1="1090" x2="200" y2="1097"><stop offset="0" stop-color="#4AB4E4"/><stop offset="1" stop-color="#39ABE1"/></linearGradient><linearGradient id="fd3" gradientUnits="userSpaceOnUse" x1="160" y1="1180" x2="170" y2="1255"><stop offset="0" stop-color="#3F7286"/><stop offset="1" stop-color="#4D8090"/></linearGradient><clipPath id="fc3"><path d="M213.6 996H475.8L486.1 1006L357.2 1160.3L341.3 1167H183.2z"/></clipPath><path d="M225.4 926.4L135.5 1430C124 1424 117 1410 116.5 1385C116 1300 135 1120 180.8 995.6C190 965 197 942 205 933C210 928 218 926.4 225.4 926.4z" fill="#231F20"/><path d="M182 1007H467A30 30 0 0 1 490.1 1056.2L367 1203.5Q352 1219.5 328 1219.5H173z" fill="#231F20"/><linearGradient id="cg42" gradientUnits="userSpaceOnUse" x1="292.79999999999995" y1="1077.4" x2="404.4" y2="1189.0"><stop offset="0" stop-color="#595959"/><stop offset="0.44" stop-color="#6e6e6e"/><stop offset="0.62" stop-color="#787878"/><stop offset="0.67" stop-color="#808080"/><stop offset="0.76" stop-color="#a1a1a1"/><stop offset="0.85" stop-color="#d1d1d1"/><stop offset="0.945" stop-color="#ededed"/><stop offset="1" stop-color="#ffffff"/></linearGradient><filter id="cf43" x="-15%" y="-15%" width="130%" height="130%"><feGaussianBlur stdDeviation="2.6"/></filter><path d="M330.9 1029.2L398.1 1082.3A71.5 71.5 0 1 1 297.7 1182.7L244.6 1115.5A61.49 61.49 0 0 1 330.9 1029.2z" fill="url(#cg42)" filter="url(#cf43)" /><path d="M213.6 996H475.8L486.1 1006L357.2 1160.3L341.3 1167H183.2z" fill="url(#fg3)"/><path d="M214.2 996L182 1026.2L152.3 1194L183.8 1167z" fill="url(#ff3)"/><path d="M152.3 1194L183.2 1167L164.9 1257.3z" fill="url(#fd3)"/><g style="mix-blend-mode:multiply" clip-path="url(#fc3)"><linearGradient id="cg44" gradientUnits="userSpaceOnUse" x1="292.79999999999995" y1="1077.4" x2="403.7" y2="1188.3"><stop offset="0" stop-color="#b2b2b2"/><stop offset="0.41" stop-color="#b8b8b8"/><stop offset="0.55" stop-color="#cccccc"/><stop offset="0.7" stop-color="#e0e0e0"/><stop offset="0.85" stop-color="#f2f2f2"/><stop offset="1" stop-color="#ffffff"/></linearGradient><filter id="cf45" x="-15%" y="-15%" width="130%" height="130%"><feGaussianBlur stdDeviation="3.2"/></filter><path d="M331.1 1028.7L397.3 1080.8A72 72 0 1 1 296.2 1181.9L244.1 1115.7A61.92 61.92 0 0 1 331.1 1028.7z" fill="url(#cg44)" filter="url(#cf45)" /><filter id="df46" x="-40%" y="-40%" width="180%" height="180%"><feGaussianBlur stdDeviation="8"/></filter><circle cx="301.8" cy="1086.4" r="65" fill="#000" opacity="0.45" filter="url(#df46)"/></g><clipPath id="bc47"><rect x="290.10" y="1010.1000000000001" width="70.3" height="134.6"/></clipPath><clipPath id="bc48"><rect x="225.50" y="1010.1000000000001" width="69.90" height="134.6"/></clipPath><circle cx="292.79999999999995" cy="1077.4" r="65.3" fill="#EEF2F3"/><circle cx="292.79999999999995" cy="1077.4" r="65.3" fill="#9A9C9E" clip-path="url(#bc47)"/><circle cx="292.30" cy="1072.55" r="60.45" fill="url(#faceg)"/><path fill-rule="evenodd" clip-path="url(#bc48)" fill="#22428C" d="M227.49999999999994 1077.4a65.3 65.3 0 1 0 130.6 0a65.3 65.3 0 1 0 -130.6 0zM233.90 1082.15a60.40 60.40 0 1 0 120.80 0a60.40 60.40 0 1 0 -120.80 0z"/></g>
<g transform="translate(2103 1007) scale(0.09642)" fill="none" stroke="#4DBAD9" stroke-width="27" stroke-linecap="round" stroke-linejoin="round"><path d="M690 985Q600 1025 500 1020Q400 1010 320 965Q290 860 305 740Q330 600 430 460Q510 360 590 305Q640 310 700 370Q725 430 710 460Q690 495 640 485L590 462Q520 470 480 530Q450 580 475 640Q500 720 490 760Q480 800 455 830Q510 790 560 760Q640 730 740 780"/><path d="M1040 330A100 100 0 1 1 985 283"/><path d="M905 375L950 415L1055 265"/><path d="M1040 635A100 100 0 1 1 985 588"/><path d="M905 680L950 720L1055 570"/><path d="M1040 945A100 100 0 1 1 985 898"/><path d="M905 990L950 1030L1055 880"/></g></svg>
<div class="t" id="t0" style="left:299.5px;top:423.8px;font-size:27.6px;line-height:27.6px;font-weight:400;color:#fff;letter-spacing:0.103px;transform:scaleX(1.1000);-webkit-text-stroke:0.5px #78686B">Immerse yourself in experiential learning and</div>
<div class="t" id="t1" style="left:300.5px;top:456.3px;font-size:27.6px;line-height:27.6px;font-weight:400;color:#fff;letter-spacing:0.050px;transform:scaleX(1.1000);-webkit-text-stroke:0.5px #78686B">benefit by “Hearing, Seeing, Doing”</div>
<div class="t" id="t2" style="left:1667.5px;top:408.6px;font-size:27.6px;line-height:27.6px;font-weight:400;color:#fff;letter-spacing:0.187px;transform:scaleX(1.1000);-webkit-text-stroke:0.5px #7B5573">Undergo intensive training which includes learning</div>
<div class="t" id="t3" style="left:1668.5px;top:441.8px;font-size:27.6px;line-height:27.6px;font-weight:400;color:#fff;letter-spacing:0.453px;transform:scaleX(1.1000);-webkit-text-stroke:0.5px #7B5573">about line transformation of a product from it</div>
<div class="t" id="t4" style="left:1678.5px;top:475.1px;font-size:27.6px;line-height:27.6px;font-weight:400;color:#fff;letter-spacing:0.455px;transform:scaleX(1.1000);-webkit-text-stroke:0.5px #7B5573">“current state” to “future state”/ to its final state</div>
<div class="t" id="t5" style="left:438.0px;top:585.3px;font-size:27.6px;line-height:27.6px;font-weight:400;color:#fff;letter-spacing:0.274px;transform:scaleX(1.1000);-webkit-text-stroke:0.5px #55BCDA">Learn about the concepts of lean manufacturing</div>
<div class="t" id="t6" style="left:439.0px;top:618.6px;font-size:27.6px;line-height:27.6px;font-weight:400;color:#fff;letter-spacing:0.282px;transform:scaleX(1.1000);-webkit-text-stroke:0.5px #55BCDA">and apply them to a real manufacturing situation</div>
<div class="t" id="t7" style="left:438.0px;top:651.2px;font-size:27.6px;line-height:27.6px;font-weight:400;color:#fff;letter-spacing:-0.000px;transform:scaleX(1.0992);-webkit-text-stroke:0.5px #55BCDA">in a safe and risk-free environment</div>
<div class="t" id="t8" style="left:1560.5px;top:603.0px;font-size:27.6px;line-height:27.6px;font-weight:400;color:#fff;letter-spacing:0.128px;transform:scaleX(1.1000);-webkit-text-stroke:0.5px #6788B0">Optimize the entire value-stream process of</div>
<div class="t" id="t9" style="left:1559.5px;top:636.3px;font-size:27.6px;line-height:27.6px;font-weight:400;color:#fff;letter-spacing:0.141px;transform:scaleX(1.1000);-webkit-text-stroke:0.5px #6788B0">SMEs/your business from materials to information</div>
<div class="t" id="t10" style="left:1141.5px;top:311.5px;font-size:35.7px;line-height:35.7px;font-weight:700;color:#264478;letter-spacing:0.000px;transform:scaleX(1.0249)">FACTORY ONE</div>
<div class="t" id="t11" style="left:1202.5px;top:353.0px;font-size:33px;line-height:33px;font-weight:700;color:#264478;letter-spacing:0.000px;transform:scaleX(1.0353)">lets you:</div>
<div class="t" id="t12" style="left:1216.5px;top:391.2px;font-size:21px;line-height:21px;font-weight:400;color:#264478;letter-spacing:1.384px;transform:scaleX(1.1000);-webkit-text-stroke:0.3px #fff">(benefits)</div>
<div class="t" id="t13" style="left:812.5px;top:830.6px;font-size:31.7px;line-height:31.7px;font-weight:700;color:#264478;letter-spacing:-0.000px;transform:scaleX(1.0584);-webkit-text-stroke:0.9px #264478">SME<span style="font-size:17.6px">S</span> THAT PARTICIPATE IN MODEL FACTORY ENABLED</div>
<div class="t" id="t14" style="left:859.5px;top:870.0px;font-size:31.7px;line-height:31.7px;font-weight:700;color:#264478;letter-spacing:-0.000px;transform:scaleX(1.0604);-webkit-text-stroke:0.9px #264478">CAPABILITY BUILDING PROGRAMS HAVE SHOWN:</div>
<div class="t" id="t15" style="left:1213.5px;top:904.9px;font-size:18.5px;line-height:18.5px;font-weight:400;color:#264478;letter-spacing:1.587px;transform:scaleX(1.1000)">(outcomes)</div>
<div class="t" id="t16" style="left:194.0px;top:1241.7px;font-size:27.6px;line-height:27.6px;font-weight:400;color:#1E3C86;letter-spacing:0.000px;transform:scaleX(1.0880);-webkit-text-stroke:0.5px #fff">Improved business</div>
<div class="t" id="t17" style="left:195.0px;top:1275.2px;font-size:27.6px;line-height:27.6px;font-weight:400;color:#1E3C86;letter-spacing:0.064px;transform:scaleX(1.1000);-webkit-text-stroke:0.5px #fff">performance results</div>
<div class="t" id="t18" style="left:195.0px;top:1308.4px;font-size:27.6px;line-height:27.6px;font-weight:400;color:#1E3C86;letter-spacing:0.172px;transform:scaleX(1.1000);-webkit-text-stroke:0.5px #fff">(financial, operational)</div>
<div class="t" id="t19" style="left:822.0px;top:1241.6px;font-size:27.6px;line-height:27.6px;font-weight:400;color:#1E3C86;letter-spacing:0.347px;transform:scaleX(1.1000);-webkit-text-stroke:0.5px #fff">Five-times better knowledge</div>
<div class="t" id="t20" style="left:822.0px;top:1275.1px;font-size:27.6px;line-height:27.6px;font-weight:400;color:#1E3C86;letter-spacing:0.282px;transform:scaleX(1.1000);-webkit-text-stroke:0.5px #fff">recall-rate for participants* when</div>
<div class="t" id="t21" style="left:823.0px;top:1308.4px;font-size:27.6px;line-height:27.6px;font-weight:400;color:#1E3C86;letter-spacing:0.282px;transform:scaleX(1.1000);-webkit-text-stroke:0.5px #fff">compared to conventional training</div>
<div class="t" id="t22" style="left:823.0px;top:1341.6px;font-size:27.6px;line-height:27.6px;font-weight:400;color:#1E3C86;letter-spacing:0.138px;transform:scaleX(1.1000);-webkit-text-stroke:0.5px #fff">and consultancy programs</div>
<div class="t" id="t23" style="left:1446.0px;top:1241.6px;font-size:27.6px;line-height:27.6px;font-weight:400;color:#1E3C86;letter-spacing:0.290px;transform:scaleX(1.1000);-webkit-text-stroke:0.5px #fff">Increase in productivity between</div>
<div class="t" id="t24" style="left:1448.0px;top:1275.1px;font-size:27.6px;line-height:27.6px;font-weight:400;color:#1E3C86;letter-spacing:0.000px;transform:scaleX(1.0785);-webkit-text-stroke:0.5px #fff">30% to 50%</div>
<div class="t" id="t25" style="left:2074.5px;top:1241.6px;font-size:27.6px;line-height:27.6px;font-weight:400;color:#1E3C86;letter-spacing:0.057px;transform:scaleX(1.1000);-webkit-text-stroke:0.5px #fff">Lasting capabilities and</div>
<div class="t" id="t26" style="left:2075.5px;top:1275.2px;font-size:27.6px;line-height:27.6px;font-weight:400;color:#1E3C86;letter-spacing:0.000px;transform:scaleX(1.0998);-webkit-text-stroke:0.5px #fff">sustained transformations</div>
<div class="t" id="t27" style="left:1090.5px;top:1448.7px;font-size:27px;line-height:27px;font-weight:700;color:#264478;letter-spacing:-2.399px;transform:scaleX(0.9000)">*Publication Ministry of Trade</div>
</body></html>
